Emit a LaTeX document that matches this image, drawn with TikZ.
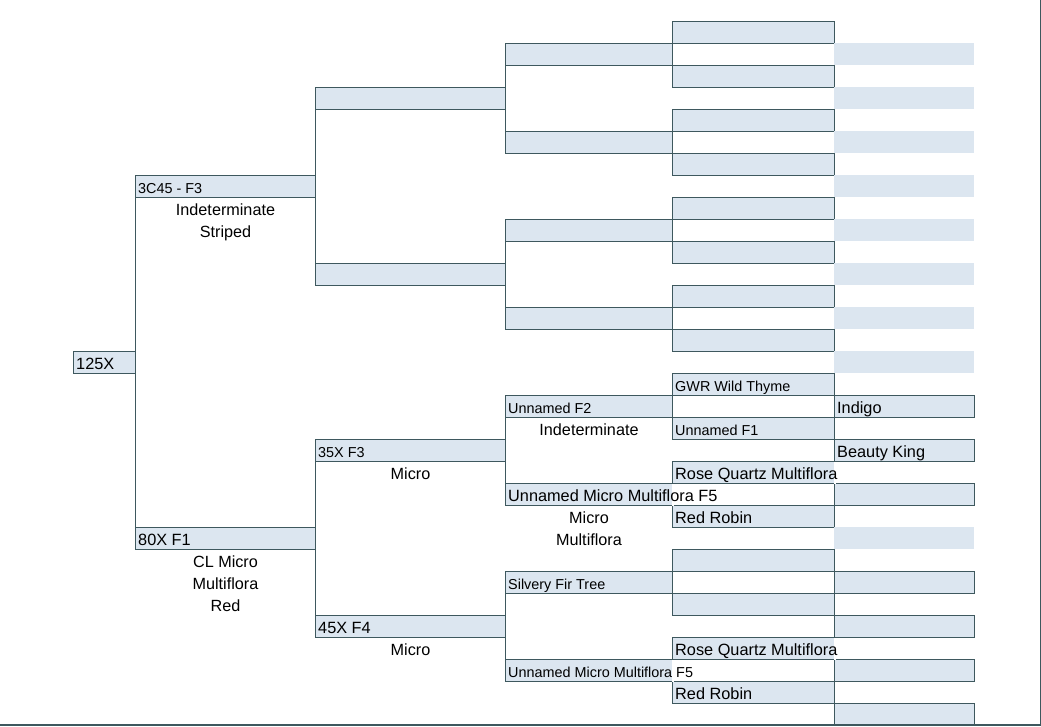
\documentclass[tikz,border=0pt]{standalone}
\usepackage{fontspec}
\setmainfont{Liberation Sans}
\usetikzlibrary{calc}

\definecolor{cellfill}{RGB}{220,230,240}
\definecolor{celledge}{RGB}{62,88,94}

\tikzset{
  cell/.style={rectangle, draw=celledge, fill=cellfill, line width=1pt, anchor=north west, inner sep=0pt, minimum height=22pt},
  bare/.style={rectangle, fill=cellfill, anchor=north west, inner sep=0pt, minimum height=22pt},
  link/.style={draw=celledge, line width=1pt},
  big/.style={anchor=base west, inner sep=0pt, xshift=3pt, yshift=4.3pt, font=\fontsize{16.3pt}{22pt}\selectfont},
  small/.style={big, font=\fontsize{14.4pt}{22pt}\selectfont},
  note/.style={anchor=base, inner sep=0pt, font=\fontsize{16.2pt}{22pt}\selectfont}
}

\begin{document}
\begin{tikzpicture}[x=1pt, y=-1pt]
    \useasboundingbox (0,0) rectangle (1041,726);
    % boxes, one column per generation
    \node[cell, minimum width=62pt] (root) at (73,351) {};
    \node[cell, minimum width=180pt] (a1) at (135,175) {};
    \node[cell, minimum width=180pt] (a2) at (135,527) {};
    \foreach \k/\y in {1/87, 2/263, 3/439, 4/615}
        \node[cell, minimum width=190pt] (b\k) at (315,\y) {};
    \foreach \k in {1,...,8}
        \node[cell, minimum width=167pt] (c\k) at (505,{88*\k-45}) {};
    \foreach \k in {0,...,15}
        \node[cell, minimum width=162pt] (d\k) at (672,{21+44*\k}) {};
    \foreach \k in {0,...,7,11}
        \node[bare, minimum width=140pt] (e\k) at (834,{43+44*\k}) {};
    \foreach \k in {8,9,10,12,13,14,15}
        \node[cell, minimum width=140pt] (e\k) at (834,{43+44*\k}) {};

    % connectors
    \draw[link] (a1.south west) -- (a2.north west);
    \draw[link] (b1.south west) -- (b2.north west);
    \draw[link] (b3.south west) -- (b4.north west);
    \foreach \k in {1,3,5,7} {
        \pgfmathtruncatemacro\n{\k+1}
        \draw[link] (c\k.south west) -- (c\n.north west);
    }
    \foreach \k in {0,2,...,14} {
        \pgfmathtruncatemacro\n{\k+1}
        \draw[link] (d\k.south west) -- (d\n.north west);
    }
    \draw[link] (e8.south west) -- (e9.north west);

    % long names run over the next border
    \foreach \nm in {c6, c8, d10, d14}
        \fill[white] ([xshift=-1pt, yshift=-0.5pt]\nm.north east) rectangle ([xshift=1pt, yshift=0.5pt]\nm.south east);

    % names
    \node[big] (troot) at (root.south west) {125X};
    \node[small] (ta1) at (a1.south west) {3C45 - F3};
    \node[big] (ta2) at (a2.south west) {80X F1};
    \node[small] (tb3) at (b3.south west) {35X F3};
    \node[big] (tb4) at (b4.south west) {45X F4};
    \node[small] (tc5) at (c5.south west) {Unnamed F2};
    \node[big] (tc6) at (c6.south west) {Unnamed Micro Multiflora F5};
    \node[small] (tc7) at (c7.south west) {Silvery Fir Tree};
    \node[small] (tc8) at (c8.south west) {Unnamed Micro Multiflora F5};
    \node[small] (td8) at (d8.south west) {GWR Wild Thyme};
    \node[small] (td9) at (d9.south west) {Unnamed F1};
    \node[big] (td10) at (d10.south west) {Rose Quartz Multiflora};
    \node[big] (td11) at (d11.south west) {Red Robin};
    \node[big] (td14) at (d14.south west) {Rose Quartz Multiflora};
    \node[big] (td15) at (d15.south west) {Red Robin};
    \node[big] (te8) at (e8.south west) {Indigo};
    \node[big] (te9) at (e9.south west) {Beauty King};

    % notes under the boxes
    \foreach \t [count=\i] in {Indeterminate, Striped}
        \node[note] (na1-\i) at ([yshift={(4.3-22*\i)*1pt}]a1.south) {\t};
    \foreach \t [count=\i] in {CL Micro, Multiflora, Red}
        \node[note] (na2-\i) at ([yshift={(4.3-22*\i)*1pt}]a2.south) {\t};
    \node[note] (nb3) at ([yshift=-17.7pt]b3.south) {Micro};
    \node[note] (nb4) at ([yshift=-17.7pt]b4.south) {Micro};
    \node[note] (nc5) at ([yshift=-17.7pt]c5.south) {Indeterminate};
    \foreach \t [count=\i] in {Micro, Multiflora}
        \node[note] (nc6-\i) at ([yshift={(4.3-22*\i)*1pt}]c6.south) {\t};

    % page edge
    \draw[celledge, line width=1.5pt] (1040.5,0) -- (1040.5,725) -- (0,725);
\end{tikzpicture}
\end{document}
